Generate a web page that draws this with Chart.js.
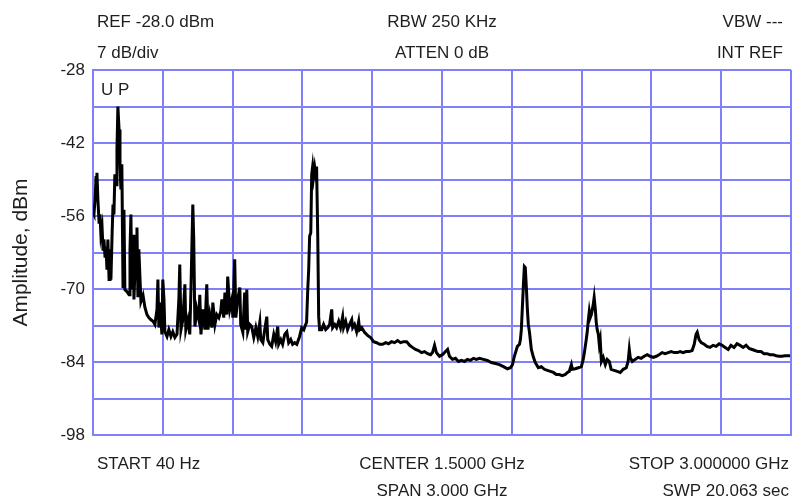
<!DOCTYPE html>
<html><head><meta charset="utf-8">
<script src="https://cdn.jsdelivr.net/npm/chart.js@4.4.0/dist/chart.umd.min.js"></script>
<style>html,body{margin:0;padding:0;background:#fff;overflow:hidden}#wrap{width:792px;height:499px;position:relative}</style>
</head><body><div id="wrap"><canvas id="c" width="792" height="499"></canvas></div>
<script>
// Frequency (MHz) of each trace sample
const freqMHz = [
0,4,9,13,17,21,26,30,34,39,
43,47,52,56,60,64,69,73,77,82,
86,90,94,99,103,107,112,116,120,124,
129,133,137,146,155,159,163,167,172,176,
185,189,193,197,206,215,223,232,240,249,
258,266,275,279,283,288,296,300,305,309,
318,326,335,343,352,361,369,373,378,386,
395,399,408,416,421,425,429,433,438,446,
455,459,464,472,481,489,494,502,511,515,
524,532,541,549,554,562,567,575,579,588,
597,601,609,614,622,631,635,644,652,657,
661,665,674,682,691,700,708,717,721,730,
738,747,751,760,768,777,785,794,798,807,
815,824,833,841,850,858,867,876,880,888,
897,906,914,918,923,927,931,936,940,944,
948,953,957,961,966,970,974,983,991,1000,
1009,1017,1026,1030,1039,1047,1056,1064,1073,1077,
1086,1094,1103,1112,1116,1124,1133,1142,1146,1155,
1167,1180,1193,1206,1219,1232,1245,1258,1270,1283,
1296,1309,1322,1335,1348,1361,1373,1386,1399,1412,
1425,1438,1451,1459,1468,1476,1489,1502,1515,1524,
1532,1545,1558,1571,1584,1597,1609,1622,1635,1648,
1661,1678,1695,1712,1730,1747,1764,1781,1794,1803,
1811,1820,1824,1833,1837,1841,1845,1850,1854,1858,
1863,1867,1871,1876,1884,1893,1901,1914,1927,1940,
1953,1966,1979,1991,2004,2017,2030,2039,2047,2056,
2060,2073,2086,2099,2107,2112,2120,2124,2129,2133,
2137,2142,2150,2154,2159,2163,2167,2172,2176,2180,
2185,2193,2202,2210,2219,2227,2240,2253,2266,2279,
2292,2300,2305,2309,2318,2330,2343,2356,2369,2382,
2395,2408,2421,2433,2446,2459,2472,2485,2498,2511,
2524,2536,2549,2562,2575,2584,2592,2597,2605,2614,
2627,2639,2652,2665,2678,2691,2704,2717,2730,2742,
2755,2768,2781,2794,2807,2820,2833,2845,2858,2871,
2884,2897,2910,2923,2936,2948,2961,2974,2987,2996
];
// Amplitude (dBm) of each trace sample
const ampDbm = [
-55.3,-55.7,-52.8,-48.6,-47.7,-52.8,-57.2,-55.7,-59.6,-58.2,
-62.4,-60.5,-64.0,-61.9,-66.3,-60.5,-68.2,-62.4,-68.2,-59.6,
-53.8,-55.7,-48.0,-50.0,-43.2,-35.0,-39.4,-46.1,-50.9,-46.1,
-69.5,-54.8,-70.1,-70.5,-71.1,-62.4,-55.7,-70.1,-59.6,-72.0,
-60.5,-58.2,-71.6,-62.4,-72.4,-71.2,-73.5,-74.9,-75.5,-75.9,
-76.2,-76.8,-73.9,-68.2,-77.4,-72.6,-78.7,-68.2,-72.0,-78.2,
-79.1,-77.8,-79.1,-78.2,-79.3,-78.7,-72.0,-65.3,-77.8,-75.9,
-69.1,-77.8,-75.9,-78.7,-70.1,-61.9,-53.8,-60.5,-77.2,-73.9,
-75.9,-71.1,-78.7,-73.9,-77.8,-69.1,-77.8,-74.9,-77.4,-72.6,
-76.8,-74.9,-75.5,-74.3,-72.0,-75.5,-70.7,-74.9,-67.6,-73.9,
-72.0,-75.5,-64.3,-75.5,-72.0,-69.7,-76.8,-78.3,-70.7,-77.8,
-70.1,-78.2,-76.8,-77.2,-79.3,-77.4,-79.1,-76.4,-79.7,-80.3,
-77.8,-75.3,-79.7,-80.6,-81.0,-78.7,-80.1,-77.2,-80.6,-79.7,
-80.6,-78.7,-78.2,-80.3,-79.7,-80.6,-80.3,-80.6,-80.1,-79.1,
-77.4,-77.8,-76.8,-76.4,-70.1,-66.3,-59.9,-59.2,-48.0,-46.5,
-48.5,-46.7,-48.0,-46.5,-59.9,-75.3,-77.8,-77.8,-76.8,-77.8,
-77.4,-76.8,-73.9,-77.4,-76.8,-77.4,-76.2,-77.4,-75.3,-77.4,
-76.2,-77.8,-76.8,-75.9,-77.4,-76.8,-78.2,-76.2,-77.8,-77.4,
-78.3,-78.9,-79.3,-80.1,-80.3,-80.6,-80.6,-80.3,-80.5,-80.1,
-80.3,-79.9,-80.3,-80.1,-80.1,-80.8,-81.2,-81.6,-81.8,-82.2,
-82.0,-82.4,-82.6,-82.2,-80.8,-82.2,-82.9,-82.6,-82.0,-81.6,
-82.9,-83.5,-83.3,-83.9,-83.7,-83.9,-83.5,-83.7,-83.3,-83.5,
-83.3,-83.5,-83.7,-84.1,-84.3,-84.5,-84.9,-85.3,-85.1,-84.5,
-82.9,-81.6,-81.0,-80.6,-79.7,-77.8,-73.9,-69.1,-65.7,-65.9,
-70.1,-73.9,-76.8,-78.3,-81.6,-83.1,-84.1,-85.1,-84.9,-85.4,
-85.6,-85.8,-86.0,-86.4,-86.4,-86.6,-86.4,-86.0,-85.8,-84.5,
-85.4,-85.3,-85.1,-84.9,-83.5,-82.2,-79.7,-78.3,-75.9,-74.3,
-75.5,-74.9,-73.0,-71.6,-73.9,-76.4,-77.8,-78.7,-80.6,-79.7,
-83.9,-83.1,-84.5,-83.5,-83.9,-85.4,-85.6,-85.8,-86.0,-85.4,
-85.1,-83.9,-81.6,-83.1,-83.9,-83.5,-83.1,-83.3,-82.9,-82.6,
-82.9,-83.1,-82.9,-82.6,-82.2,-82.4,-82.2,-82.0,-82.2,-82.2,
-82.0,-82.2,-82.0,-82.0,-81.8,-80.6,-78.7,-78.3,-79.7,-80.3,
-80.6,-81.0,-81.2,-80.8,-81.0,-80.5,-80.8,-81.2,-81.6,-80.8,
-81.2,-80.5,-80.8,-81.2,-80.8,-81.4,-81.6,-81.8,-82.0,-82.0,
-82.4,-82.4,-82.6,-82.6,-82.8,-82.9,-82.9,-82.8,-82.8,-82.8
];
const yTickLabels = [-28, -42, -56, -70, -84, -98];
const headerLeft = ["REF -28.0 dBm", "7 dB/div"];
const headerCenter = ["RBW 250 KHz", "ATTEN 0 dB"];
const headerRight = ["VBW ---", "INT REF"];
const footerLeft = ["START 40 Hz"];
const footerCenter = ["CENTER 1.5000 GHz", "SPAN 3.000 GHz"];
const footerRight = ["STOP 3.000000 GHz", "SWP 20.063 sec"];
const traceMode = "U P";

const gridColor = 'rgb(128,128,250)';
const textColor = '#1e1e1e';
const fontFam = '"Liberation Sans", Arial, sans-serif';

const annot = {
  id: 'annot',
  afterDraw(chart) {
    const ctx = chart.ctx, a = chart.chartArea;
    ctx.save();
    ctx.fillStyle = textColor;
    ctx.font = '17px ' + fontFam;
    ctx.textBaseline = 'alphabetic';
    const rows = [27, 58];
    ctx.textAlign = 'left';
    headerLeft.forEach((t, i) => ctx.fillText(t, 97, rows[i]));
    ctx.textAlign = 'center';
    headerCenter.forEach((t, i) => ctx.fillText(t, 442, rows[i]));
    ctx.textAlign = 'right';
    headerRight.forEach((t, i) => ctx.fillText(t, 783, rows[i]));
    const frows = [469, 496];
    ctx.textAlign = 'left';
    footerLeft.forEach((t, i) => ctx.fillText(t, 97, frows[i]));
    ctx.textAlign = 'center';
    footerCenter.forEach((t, i) => ctx.fillText(t, 442, frows[i]));
    ctx.textAlign = 'right';
    footerRight.forEach((t, i) => ctx.fillText(t, 789, frows[i]));
    ctx.textAlign = 'left';
    ctx.fillText(traceMode, a.left + 8, a.top + 25);
    ctx.restore();
  }
};

new Chart(document.getElementById('c'), {
  type: 'line',
  data: {
    datasets: [{
      data: freqMHz.map((f, i) => ({ x: f, y: ampDbm[i] })),
      borderColor: '#000',
      borderWidth: 3,
      pointRadius: 0,
      tension: 0,
      fill: false
    }]
  },
  options: {
    responsive: false,
    animation: false,
    devicePixelRatio: 1,
    layout: { padding: { top: 70, right: 1, left: 0, bottom: 0 } },
    plugins: { legend: { display: false }, tooltip: { enabled: false } },
    scales: {
      x: {
        type: 'linear', min: 0, max: 3000,
        ticks: { stepSize: 300, display: false },
        grid: { color: gridColor, lineWidth: 2, drawTicks: false },
        border: { color: gridColor, width: 2 },
        afterFit(s) { s.height = 64; }
      },
      y: {
        min: -98, max: -28,
        ticks: {
          stepSize: 7, autoSkip: false, color: textColor, padding: 8,
          font: { family: fontFam, size: 17 },
          callback: (v) => yTickLabels.includes(v) ? String(v) : ''
        },
        grid: { color: gridColor, lineWidth: 2, drawTicks: false },
        border: { color: gridColor, width: 2 },
        title: { display: true, text: 'Amplitude, dBm', color: textColor,
                 font: { family: fontFam, size: 21 }, padding: { top: 9, bottom: 4 } },
        afterFit(s) { s.width = 93; }
      }
    }
  },
  plugins: [annot]
});
</script>
</body></html>
